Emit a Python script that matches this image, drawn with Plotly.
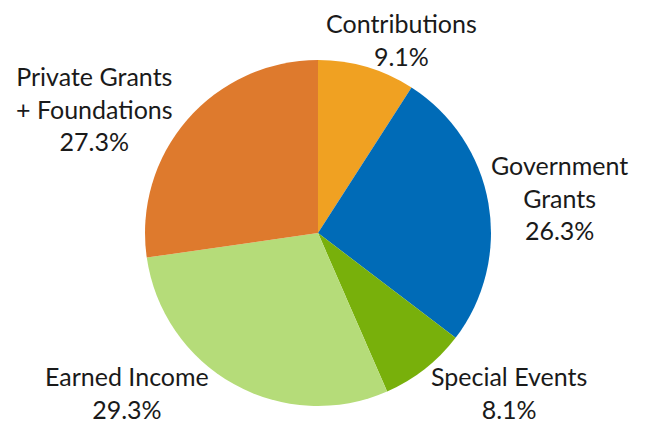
import plotly.graph_objects as go

labels = ["Contributions", "Government<br>Grants", "Special Events", "Earned Income", "Private Grants<br>+ Foundations"]
values = [9.1, 26.3, 8.1, 29.3, 27.3]
colors = ["#F0A122", "#006BB7", "#78B00B", "#B5DC79", "#DE7A2D"]

# label placement (paper coordinates), layout only
label_pos = [(0.607, 0.925), (0.8505, 0.554), (0.772, 0.094), (0.1834, 0.094), (0.134, 0.764)]

fig = go.Figure(go.Pie(
    labels=labels,
    values=values,
    sort=False,
    direction="clockwise",
    rotation=0,
    marker=dict(colors=colors, line=dict(width=0)),
    textinfo="none",
    hovertemplate="%{label}: %{value:.1f}%<extra></extra>",
    domain=dict(x=[0.2111, 0.7442], y=[0.0613, 0.8774]),
    showlegend=False,
    automargin=False,
))

for lab, val, (x, y) in zip(labels, values, label_pos):
    fig.add_annotation(
        x=x, y=y, xref="paper", yref="paper",
        text=f"{lab}<br>{val:.1f}%",
        showarrow=False, xanchor="center", yanchor="middle", align="center",
        font=dict(family="Lato", size=25, color="#1a1a1a"),
    )

fig.update_layout(
    width=649, height=424,
    margin=dict(l=0, r=0, t=0, b=0),
    paper_bgcolor="white",
    plot_bgcolor="white",
)
fig.write_html("out.html")
